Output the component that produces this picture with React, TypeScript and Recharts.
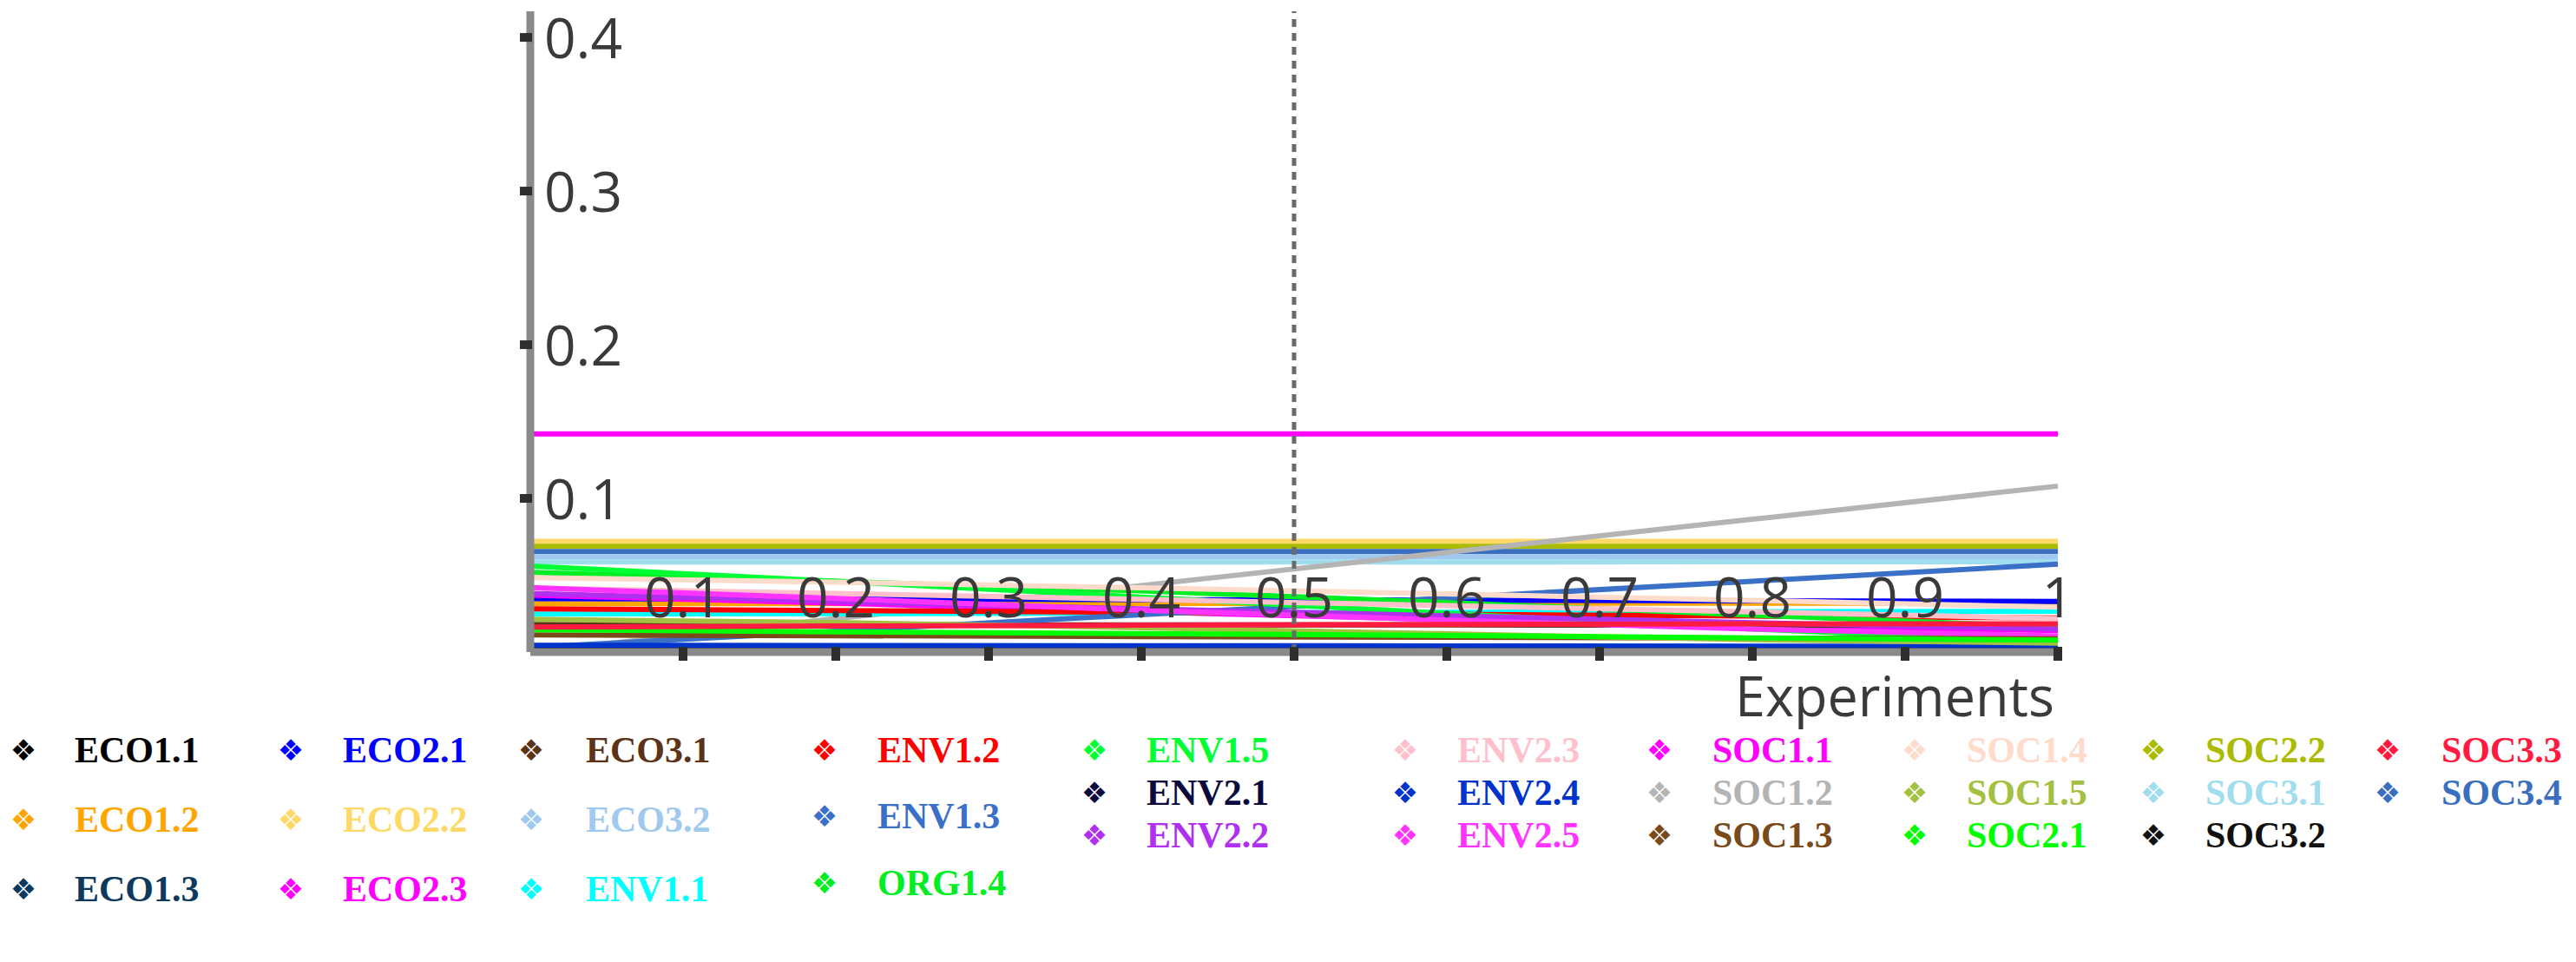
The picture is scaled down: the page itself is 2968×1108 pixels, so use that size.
import { LineChart, Line, XAxis, YAxis, ReferenceLine, Label } from 'recharts';

// weights of each criterion as the experiment weight goes 0 -> 1
const experiments = [0, 0.2, 0.4, 0.6, 0.8, 1];
const xTicks = [0.1, 0.2, 0.3, 0.4, 0.5, 0.6, 0.7, 0.8, 0.9, 1];
const yTicks = [0.1, 0.2, 0.3, 0.4];

const ECO1_1 = [0.0024, 0.0024, 0.0023, 0.0023, 0.0022, 0.0022];
const ECO1_2 = [0.0315, 0.0315, 0.0316, 0.0317, 0.0318, 0.0318];
const ECO1_3 = [0.0012, 0.0012, 0.0011, 0.0011, 0.001, 0.001];
const ECO2_1 = [0.0348, 0.0345, 0.0341, 0.0337, 0.0333, 0.0329];
const ECO2_2 = [0.0721, 0.0721, 0.0721, 0.0721, 0.0721, 0.0721];
const ECO2_3 = [0.037, 0.0318, 0.0262, 0.0212, 0.0171, 0.014];
const ECO3_1 = [0.0179, 0.0178, 0.0177, 0.0176, 0.0175, 0.0174];
const ECO3_2 = [0.062, 0.062, 0.062, 0.062, 0.0619, 0.0619];
const ENV1_1 = [0.0247, 0.025, 0.0254, 0.0258, 0.0262, 0.0265];
const ENV1_2 = [0.0281, 0.027, 0.0258, 0.0246, 0.0234, 0.0222];
const ENV1_3 = [0.003, 0.0136, 0.0243, 0.0352, 0.0461, 0.0572];
const ORG1_4 = [0.0518, 0.046, 0.0398, 0.0322, 0.024, 0.0162];
const ENV1_5 = [0.056, 0.0461, 0.0358, 0.0252, 0.015, 0.0062];
const ENV2_1 = [0.0034, 0.0033, 0.0032, 0.0031, 0.003, 0.0029];
const ENV2_2 = [0.0382, 0.033, 0.0281, 0.0236, 0.0191, 0.015];
const ENV2_3 = [0.0416, 0.0381, 0.0343, 0.0302, 0.0262, 0.0218];
const ENV2_4 = [0.0044, 0.0043, 0.0041, 0.004, 0.0038, 0.0037];
const ENV2_5 = [0.042, 0.0349, 0.0272, 0.0208, 0.015, 0.0105];
const SOC1_1 = [0.142, 0.142, 0.142, 0.142, 0.142, 0.142];
const SOC1_2 = [0.0, 0.0217, 0.0433, 0.0648, 0.0864, 0.108];
const SOC1_3 = [0.0111, 0.0106, 0.0101, 0.0096, 0.0091, 0.0086];
const SOC1_4 = [0.0484, 0.0455, 0.0418, 0.0378, 0.0336, 0.0292];
const SOC1_5 = [0.0213, 0.0192, 0.0158, 0.0118, 0.008, 0.0058];
const SOC2_1 = [0.0145, 0.0132, 0.012, 0.0108, 0.0092, 0.0077];
const SOC2_2 = [0.0688, 0.0688, 0.0688, 0.0688, 0.0688, 0.0688];
const SOC3_1 = [0.0586, 0.0586, 0.0586, 0.0586, 0.0587, 0.0588];
const SOC3_2 = [0.0008, 0.0008, 0.0008, 0.0008, 0.0008, 0.0008];
const SOC3_3 = [0.0163, 0.0169, 0.0175, 0.018, 0.0183, 0.0184];
const SOC3_4 = [0.0654, 0.0654, 0.0654, 0.0654, 0.0654, 0.0654];

const series = [
  { name: 'ECO1.1', color: '#000000', values: ECO1_1 },
  { name: 'ECO1.2', color: '#FFA500', values: ECO1_2 },
  { name: 'ECO1.3', color: '#0B3A5E', values: ECO1_3 },
  { name: 'ECO2.1', color: '#0000FF', values: ECO2_1 },
  { name: 'ECO2.2', color: '#FFD966', values: ECO2_2 },
  { name: 'ECO2.3', color: '#FF00FF', values: ECO2_3 },
  { name: 'ECO3.1', color: '#5C3317', values: ECO3_1 },
  { name: 'ECO3.2', color: '#9FC9EE', values: ECO3_2 },
  { name: 'ENV1.1', color: '#00FFFF', values: ENV1_1 },
  { name: 'ENV1.2', color: '#FF0000', values: ENV1_2 },
  { name: 'ENV1.3', color: '#3A70C8', values: ENV1_3 },
  { name: 'ORG1.4', color: '#00EE22', values: ORG1_4 },
  { name: 'ENV1.5', color: '#00FF33', values: ENV1_5 },
  { name: 'ENV2.1', color: '#0A0A3C', values: ENV2_1 },
  { name: 'ENV2.2', color: '#B030F0', values: ENV2_2 },
  { name: 'ENV2.3', color: '#FFC0CB', values: ENV2_3 },
  { name: 'ENV2.4', color: '#0033CC', values: ENV2_4 },
  { name: 'ENV2.5', color: '#FF33FF', values: ENV2_5 },
  { name: 'SOC1.1', color: '#FF00FF', values: SOC1_1 },
  { name: 'SOC1.2', color: '#B4B4B4', values: SOC1_2 },
  { name: 'SOC1.3', color: '#7A4A1A', values: SOC1_3 },
  { name: 'SOC1.4', color: '#FFDBCB', values: SOC1_4 },
  { name: 'SOC1.5', color: '#A4C040', values: SOC1_5 },
  { name: 'SOC2.1', color: '#00FF00', values: SOC2_1 },
  { name: 'SOC2.2', color: '#AABB00', values: SOC2_2 },
  { name: 'SOC3.1', color: '#A0DDEE', values: SOC3_1 },
  { name: 'SOC3.2', color: '#111111', values: SOC3_2 },
  { name: 'SOC3.3', color: '#FF1A40', values: SOC3_3 },
  { name: 'SOC3.4', color: '#3A6FC0', values: SOC3_4 },
];

// legend is laid out in columns like the original
const legendCols = [
  ['ECO1.1', 'ECO1.2', 'ECO1.3'],
  ['ECO2.1', 'ECO2.2', 'ECO2.3'],
  ['ECO3.1', 'ECO3.2', 'ENV1.1'],
  ['ENV1.2', 'ENV1.3', 'ORG1.4'],
  ['ENV1.5', 'ENV2.1', 'ENV2.2'],
  ['ENV2.3', 'ENV2.4', 'ENV2.5'],
  ['SOC1.1', 'SOC1.2', 'SOC1.3'],
  ['SOC1.4', 'SOC1.5', 'SOC2.1'],
  ['SOC2.2', 'SOC3.1', 'SOC3.2'],
  ['SOC3.3', 'SOC3.4'],
];

const data = experiments.map((x, i) => {
  const row: any = { x };
  series.forEach((s, j) => { row['s' + j] = s.values[i]; });
  return row;
});

// flat upper bands first, then the rising grey line over them,
// then the crowded low lines which hide its left half
const upperBands = ['ECO2.2', 'SOC2.2', 'SOC3.4', 'ECO3.2', 'SOC3.1'];
const idx = (n: string) => series.findIndex((s) => s.name === n);
const drawOrder = [
  ...upperBands.map(idx),
  idx('SOC1.2'),
  ...series.map((s, j) => j).filter((j) => !upperBands.includes(series[j].name) && series[j].name !== 'SOC1.2'),
];

const W = 2968;
const CH = 860;
const PLOT_LEFT = 611;
const PLOT_RIGHT = 2371;
const PLOT_TOP = 13;
const PLOT_BOTTOM = 751;
const AXIS_FONT = "'Open Sans', 'Noto Sans', sans-serif";

const fmt = (v: number) => String(Number(v.toFixed(1)));

const XTick = ({ x, payload }: any) => (
  <g>
    <rect x={x - 5} y={PLOT_BOTTOM - 6} width={10} height={16} fill="#2e2e2e" />
    <text x={x} y={PLOT_BOTTOM - 40} textAnchor="middle" fontFamily={AXIS_FONT} fontSize={64} fill="#3a3a3a">
      {fmt(payload.value)}
    </text>
  </g>
);

const YTick = ({ y, payload }: any) => (
  <g>
    <rect x={PLOT_LEFT - 12} y={y - 5} width={14} height={10} fill="#2e2e2e" />
    <text x={PLOT_LEFT + 16} y={y + 24} textAnchor="start" fontFamily={AXIS_FONT} fontSize={64} fill="#3a3a3a">
      {fmt(payload.value)}
    </text>
  </g>
);

const ExpLabel = () => (
  <text x={2367} y={825} textAnchor="end" fontFamily={AXIS_FONT} fontSize={64} fill="#3a3a3a" textLength={368} lengthAdjust="spacingAndGlyphs">
    Experiments
  </text>
);

const colX = [[27, 86], [335, 395], [612, 675], [950, 1011], [1261, 1321], [1619, 1679], [1912, 1973], [2206, 2266], [2481, 2541], [2751, 2813]];
const rowsWide = [864, 944, 1024];
const rowsMid = [864, 940, 1017];
const rowsTight = [864, 913, 962];

export default function App() {
  const colorOf = (n: string) => series.find((s) => s.name === n)?.color || '#000';

  return (
    <div style={{ width: W, height: 1108, position: 'relative', background: '#fff', overflow: 'hidden' }}>
      <style>{'body{margin:0}'}</style>
      <LineChart
        width={W}
        height={CH}
        data={data}
        margin={{ top: PLOT_TOP, right: W - PLOT_RIGHT, bottom: CH - PLOT_BOTTOM - 40, left: PLOT_LEFT - 10 }}
      >
        <XAxis
          dataKey="x"
          type="number"
          domain={[0, 1]}
          ticks={xTicks}
          height={40}
          tickLine={false}
          tick={<XTick />}
          axisLine={{ stroke: '#8a8a8a', strokeWidth: 9 }}
        >
          <Label content={<ExpLabel />} />
        </XAxis>
        <YAxis
          type="number"
          domain={[0, 0.417]}
          ticks={yTicks}
          width={10}
          tickLine={false}
          tick={<YTick />}
          axisLine={{ stroke: '#8a8a8a', strokeWidth: 9 }}
        />
        {drawOrder.map((j) => (
          <Line
            key={series[j].name}
            type="linear"
            dataKey={'s' + j}
            name={series[j].name}
            stroke={series[j].color}
            strokeWidth={6}
            dot={false}
            isAnimationActive={false}
          />
        ))}
        <ReferenceLine x={0.5} stroke="#6a6a6a" strokeWidth={5} strokeDasharray="9 7" />
      </LineChart>

      {legendCols.map((col, ci) => {
        const rows = ci < 3 ? rowsWide : ci === 3 ? rowsMid : rowsTight;
        return col.map((name, ri) => {
          const c = colorOf(name);
          const y = rows[ri];
          return (
            <div key={name}>
              <div style={{ position: 'absolute', left: colX[ci][0] - 20, top: y - 18, width: 40, textAlign: 'center', fontFamily: "'DejaVu Sans', sans-serif", fontSize: 34, lineHeight: '36px', color: c }}>
                ❖
              </div>
              <div style={{ position: 'absolute', left: colX[ci][1], top: y - 18, fontFamily: "'Liberation Serif', 'DejaVu Serif', serif", fontWeight: 'bold', fontSize: 42, lineHeight: '36px', color: c, whiteSpace: 'nowrap' }}>
                {name}
              </div>
            </div>
          );
        });
      })}
    </div>
  );
}
